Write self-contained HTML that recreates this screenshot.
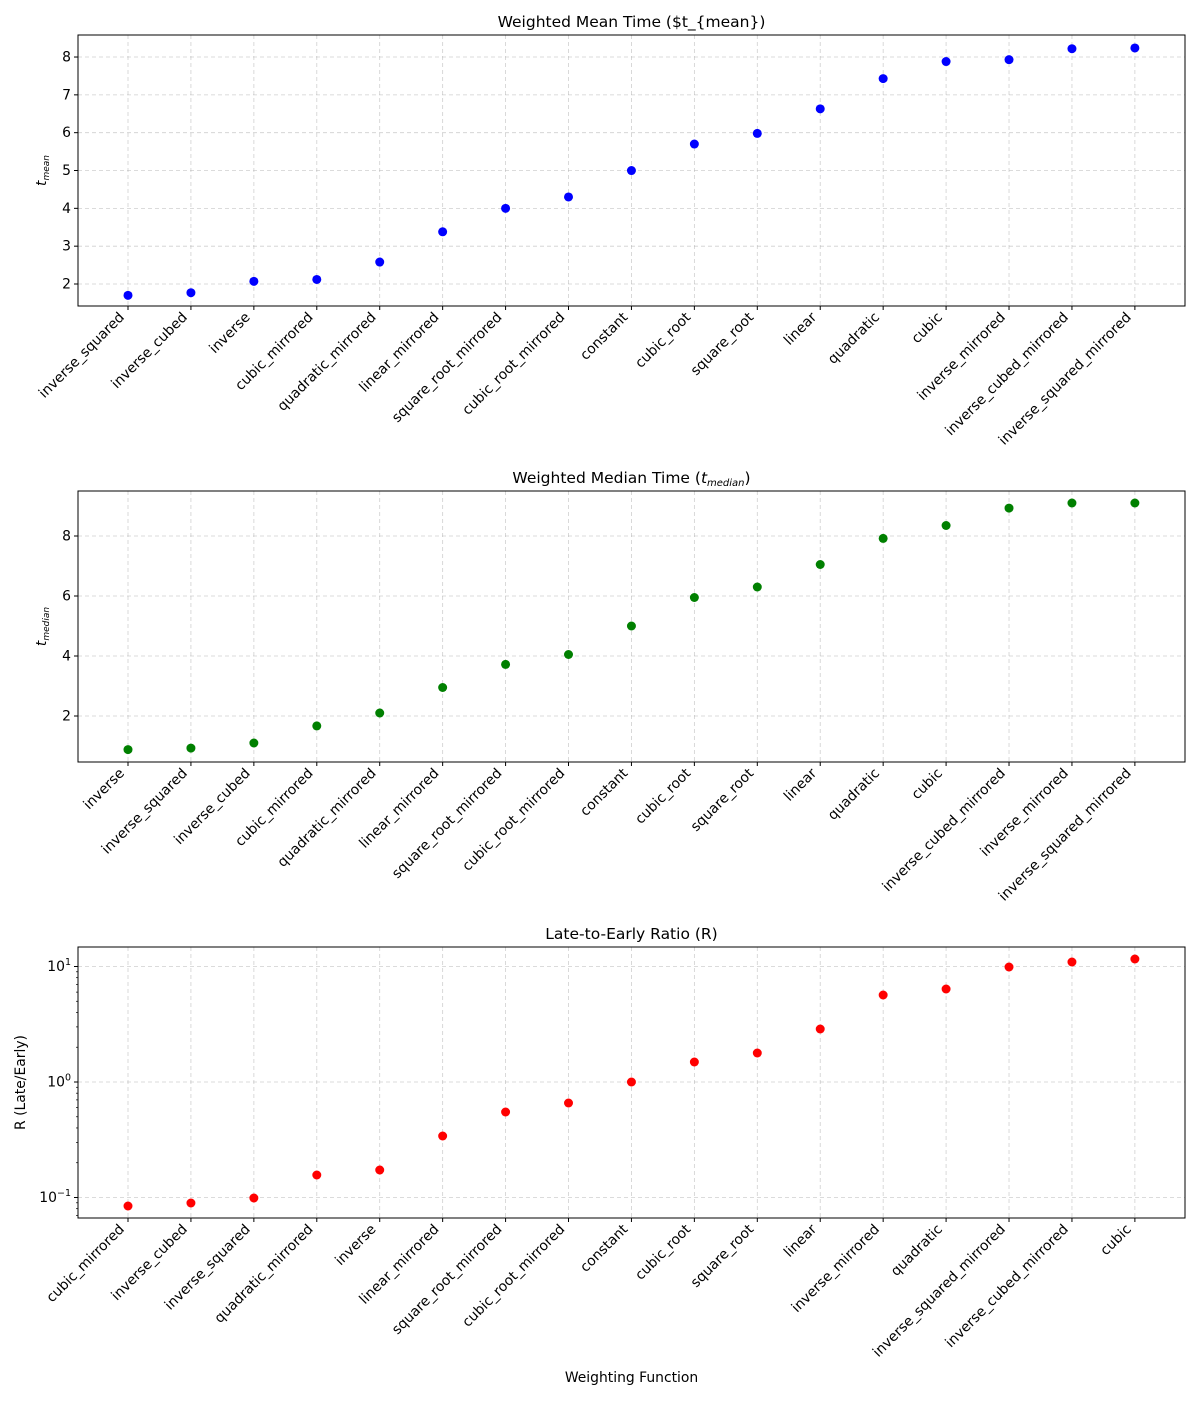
<!DOCTYPE html>
<html><head><meta charset="utf-8"><style>
body{margin:0;background:#fff}
svg{font-family:"DejaVu Sans","Liberation Sans",sans-serif}
</style></head><body>
<svg id="s" width="1200" height="1400" xmlns="http://www.w3.org/2000/svg"></svg>
<script>
const S=document.getElementById('s');let h='';
const X0=78,X1=1185,FS=13.9;
const xs=[];for(let i=0;i<17;i++)xs.push(128+i*62.93);
function panel(top,bot,title,labels,pys,color,yticks,ylab,minor){
  xs.forEach(x=>h+=`<line x1="${x}" y1="${top}" x2="${x}" y2="${bot}" stroke="#b0b0b0" stroke-dasharray="4,3" stroke-width="0.8" opacity="0.6"/>`);
  yticks.forEach(([y,t])=>{h+=`<line x1="${X0}" y1="${y}" x2="${X1}" y2="${y}" stroke="#b0b0b0" stroke-dasharray="4,3" stroke-width="0.8" opacity="0.6"/>`;
    h+=`<line x1="${X0-4}" y1="${y}" x2="${X0}" y2="${y}" stroke="#000"/>`;
    h+=`<text x="${X0-7}" y="${y+4.5}" font-size="${FS}" text-anchor="end">${t}</text>`;});
  (minor||[]).forEach(y=>h+=`<line x1="${X0-2}" y1="${y}" x2="${X0}" y2="${y}" stroke="#000" stroke-width="0.7"/>`);
  xs.forEach((x,i)=>{h+=`<circle cx="${x}" cy="${pys[i]}" r="4.5" fill="${color}"/>`;
    h+=`<line x1="${x}" y1="${bot}" x2="${x}" y2="${bot+4}" stroke="#000"/>`;
    h+=`<text transform="translate(${x-3},${bot+12}) rotate(-45)" font-size="${FS}" text-anchor="end">${labels[i]}</text>`;});
  h+=`<rect x="${X0}" y="${top}" width="${X1-X0}" height="${bot-top}" fill="none" stroke="#000" stroke-width="1"/>`;
  h+=`<text x="631.5" y="${top-8}" font-size="15.5" text-anchor="middle">${title}</text>`;
  h+=`<g transform="translate(${ylab[1]},${(top+bot)/2}) rotate(-90)"><text font-size="${FS}" text-anchor="middle">${ylab[0]}</text></g>`;
}
const L1="inverse_squared inverse_cubed inverse cubic_mirrored quadratic_mirrored linear_mirrored square_root_mirrored cubic_root_mirrored constant cubic_root square_root linear quadratic cubic inverse_mirrored inverse_cubed_mirrored inverse_squared_mirrored".split(' ');
const v1=[1.7,1.77,2.07,2.12,2.58,3.38,4.0,4.3,5.0,5.7,5.98,6.63,7.43,7.88,7.93,8.22,8.24];
const y1=v=>284-(v-2)*37.83;
panel(35,306,"Weighted Mean Time ($t_{mean})",L1,v1.map(y1),"#0000ff",[2,3,4,5,6,7,8].map(v=>[y1(v),v]),['<tspan font-style="italic">t</tspan><tspan font-size="9" font-style="italic" dy="3">mean</tspan>',46]);
const L2="inverse inverse_squared inverse_cubed cubic_mirrored quadratic_mirrored linear_mirrored square_root_mirrored cubic_root_mirrored constant cubic_root square_root linear quadratic cubic inverse_cubed_mirrored inverse_mirrored inverse_squared_mirrored".split(' ');
const v2=[0.88,0.93,1.1,1.67,2.1,2.95,3.72,4.05,5.0,5.95,6.3,7.05,7.92,8.35,8.93,9.1,9.1];
const y2=v=>716-(v-2)*30;
panel(491,762,'Weighted Median Time (<tspan font-style="italic">t</tspan><tspan font-size="10" font-style="italic" dy="3">median</tspan><tspan dy="-3">)</tspan>',L2,v2.map(y2),"#008000",[2,4,6,8].map(v=>[y2(v),v]),['<tspan font-style="italic">t</tspan><tspan font-size="9" font-style="italic" dy="3">median</tspan>',46]);
const L3="cubic_mirrored inverse_cubed inverse_squared quadratic_mirrored inverse linear_mirrored square_root_mirrored cubic_root_mirrored constant cubic_root square_root linear inverse_mirrored quadratic inverse_squared_mirrored inverse_cubed_mirrored cubic".split(' ');
const p3=[1206,1203,1198,1175,1170,1136,1112,1103,1082,1062,1053,1029,995,989,967,962,959];
const y3=lv=>1082-lv*115.5;
const mn=[];for(let d=-2;d<=1;d++)for(let k=2;k<10;k++){const y=y3(d+Math.log10(k));if(y>947&&y<1218)mn.push(y);}
panel(947,1218,"Late-to-Early Ratio (R)",L3,p3,"#ff0000",[[y3(-1),'10<tspan font-size="9.5" dy="-6">−1</tspan>'],[y3(0),'10<tspan font-size="9.5" dy="-6">0</tspan>'],[y3(1),'10<tspan font-size="9.5" dy="-6">1</tspan>']],['R (Late/Early)',25],mn);
h+=`<text x="631.5" y="1382" font-size="${FS}" text-anchor="middle">Weighting Function</text>`;
S.innerHTML=h;
</script>
</body></html>
